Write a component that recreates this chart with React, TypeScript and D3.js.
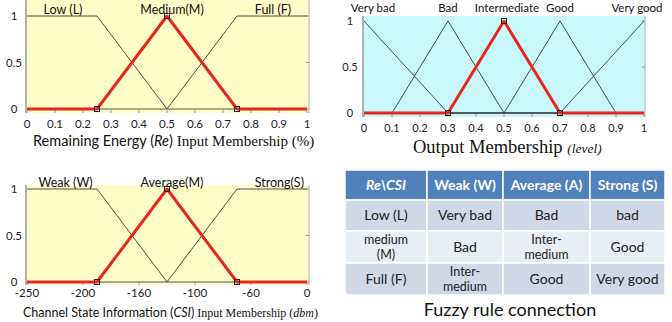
import React from 'react'
import * as d3 from 'd3'

// ---- data ----
const reTicks = [0, 0.1, 0.2, 0.3, 0.4, 0.5, 0.6, 0.7, 0.8, 0.9, 1]
const reNames = ['Low (L)', 'Medium(M)', 'Full (F)']
const reLow = [[0, 1], [0.25, 1], [0.5, 0], [1, 0]]
const reMedium = [[0, 0], [0.25, 0], [0.5, 1], [0.75, 0], [1, 0]]
const reFull = [[0, 0], [0.5, 0], [0.75, 1], [1, 1]]

const outTicks = [0, 0.1, 0.2, 0.3, 0.4, 0.5, 0.6, 0.7, 0.8, 0.9, 1]
const outNames = ['Very bad', 'Bad', 'Intermediate', 'Good', 'Very good']
const outVeryBad = [[0, 1], [0.3, 0], [1, 0]]
const outBad = [[0, 0], [0.1, 0], [0.3, 1], [0.5, 0], [1, 0]]
const outInter = [[0, 0], [0.3, 0], [0.5, 1], [0.7, 0], [1, 0]]
const outGood = [[0, 0], [0.5, 0], [0.7, 1], [0.9, 0], [1, 0]]
const outVeryGood = [[0, 0], [0.7, 0], [1, 1]]

const csiTicks = [-250, -200, -160, -100, -60, 0]
const csiNames = ['Weak (W)', 'Average(M)', 'Strong(S)']
const csiWeak = [[-250, 1], [-190, 1], [-130, 0], [0, 0]]
const csiAverage = [[-250, 0], [-190, 0], [-130, 1], [-70, 0], [0, 0]]
const csiStrong = [[-250, 0], [-130, 0], [-70, 1], [0, 1]]

const yTicks = [0, 0.5, 1]

const tableHeader = ['Re\\CSI', 'Weak (W)', 'Average (A)', 'Strong (S)']
const tableRows = [
  ['Low (L)', 'Very bad', 'Bad', 'bad'],
  ['medium\n(M)', 'Bad', 'Inter-\nmedium', 'Good'],
  ['Full (F)', 'Inter-\nmedium', 'Good', 'Very good'],
]

const SANS = 'Lato, Carlito, "Open Sans", sans-serif'
const SERIF = '"Liberation Serif", "DejaVu Serif", serif'
const RED = '#e8261c'

type Pt = number[]

function Membership(props: {
  x: d3.ScaleLinear<number, number>
  y: d3.ScaleLinear<number, number>
  bg: [number, number, number, number]
  fill: string
  sets: Pt[][]
  active: number
  names: string[]
  labelAt: number[]
  labelY: number
  labelSize: number
  ticks: number[]
  tickFmt: (d: number) => string
  tickY: number
  tickSize: number
  yLabelX: number
}) {
  const { x, y, bg, fill, sets, active, names, labelAt, labelY, ticks } = props
  const line = d3.line<Pt>().x(d => x(d[0])).y(d => y(d[1]))
  const [bx0, by0, bx1, by1] = bg
  const act = sets[active]
  return (
    <g>
      <rect x={bx0} y={by0} width={bx1 - bx0} height={by1 - by0} fill={fill} />
      <line x1={bx0} x2={bx0} y1={by0} y2={by1} stroke="#b0b0b0" strokeWidth={2} />
      <line x1={bx1} x2={bx1} y1={by0} y2={by1} stroke="#c8c8c8" strokeWidth={1.5} />
      {ticks.map((t, i) => (
        <g key={i}>
          <line x1={x(t)} x2={x(t)} y1={by1} y2={by1 - 3} stroke="#999" />
          <text x={x(t)} y={props.tickY} textAnchor="middle" fontFamily={SANS}
            fontSize={props.tickSize} fill="#222">{props.tickFmt(t)}</text>
        </g>
      ))}
      {yTicks.map((t, i) => (
        <g key={i}>
          <line x1={bx1} x2={bx1 - 3} y1={y(t)} y2={y(t)} stroke="#999" />
          <text x={props.yLabelX} y={y(t)} dy="0.35em" textAnchor="middle" fontFamily={SANS}
            fontSize={props.tickSize} fill="#222">{t}</text>
        </g>
      ))}
      {sets.map((s, i) => i === active ? null : (
        <path key={i} d={line(s) || ''} fill="none" stroke="#3a3a3a" strokeWidth={0.9} />
      ))}
      <path d={line(act) || ''} fill="none" stroke={RED} strokeWidth={3} strokeLinejoin="round" />
      {act.slice(1, -1).map((p, i) => (
        <rect key={i} x={x(p[0]) - 2.5} y={y(p[1]) - 2.5} width={5} height={5}
          fill="none" stroke="#222" strokeWidth={1} />
      ))}
      {names.map((n, i) => (
        <text key={i} x={labelAt[i]} y={labelY} textAnchor="middle" fontFamily={SANS}
          fontSize={props.labelSize} fill="#111">{n}</text>
      ))}
    </g>
  )
}

// centre of a set's top (plateau or peak), in data units
function topCentre(s: Pt[]) {
  const top = s.filter(p => p[1] === 1).map(p => p[0])
  return (d3.min(top)! + d3.max(top)!) / 2
}

export default function App() {
  const xRe = d3.scaleLinear().domain([0, 1]).range([27, 307])
  const yRe = d3.scaleLinear().domain([0, 1]).range([109, 16])

  const xOut = d3.scaleLinear().domain([0, 1]).range([364, 644])
  const yOut = d3.scaleLinear().domain([0, 1]).range([113, 21])

  // CSI axis: evenly spaced, non-uniform labels -> polylinear scale
  const xCsi = d3.scaleLinear().domain(csiTicks)
    .range(csiTicks.map((_, i) => 27 + (280 * i) / (csiTicks.length - 1)))
  const yCsi = d3.scaleLinear().domain([0, 1]).range([282, 189])

  const reSets = [reLow, reMedium, reFull]
  const outSets = [outVeryBad, outBad, outInter, outGood, outVeryGood]
  const csiSets = [csiWeak, csiAverage, csiStrong]

  const outLabelX = outSets.map(s => xOut(topCentre(s)))
  outLabelX[0] += 9
  outLabelX[outLabelX.length - 1] -= 7
  outLabelX[2] += 3

  const colEdges = [345, 427, 503, 590, 665]
  const rowEdges = [170, 200, 231, 263, 295]
  const rowFill = ['#d0d8e8', '#e9edf4', '#d0d8e8']

  return (
    <svg width={672} height={322} style={{ position: 'absolute', left: 0, top: 0, background: '#fff' }}>
      {/* Remaining energy */}
      <Membership x={xRe} y={yRe} bg={[26, 0, 309, 113]} fill="#fffdc8" sets={reSets} active={1}
        names={reNames} labelAt={reSets.map(s => xRe(topCentre(s)) + (s === reMedium ? 5 : 1))}
        labelY={14} labelSize={12.5}
        ticks={reTicks} tickFmt={d => String(d)} tickY={128} tickSize={11.5} yLabelX={14} />
      <text x={33} y={146} fill="#111">
        <tspan fontFamily={SANS} fontSize={14.5}>Remaining Energy (</tspan>
        <tspan fontFamily={SANS} fontSize={14.5} fontStyle="italic">Re</tspan>
        <tspan fontFamily={SANS} fontSize={14.5}>)</tspan>
        <tspan fontFamily={SERIF} fontSize={15}> Input Membership  (%)</tspan>
      </text>

      {/* Output */}
      <Membership x={xOut} y={yOut} bg={[363, 16, 645, 117]} fill="#c8f8fa" sets={outSets} active={2}
        names={outNames} labelAt={outLabelX} labelY={12} labelSize={11.5}
        ticks={outTicks} tickFmt={d => String(d)} tickY={132} tickSize={11} yLabelX={350} />
      <text x={413} y={153} fill="#111" fontFamily={SERIF}>
        <tspan fontSize={18.5}>Output Membership </tspan>
        <tspan fontSize={13.5} fontStyle="italic">(level)</tspan>
      </text>

      {/* CSI */}
      <Membership x={xCsi} y={yCsi} bg={[26, 185, 309, 285]} fill="#fffdc8" sets={csiSets} active={1}
        names={csiNames} labelAt={csiSets.map(s => xCsi(topCentre(s)) + 5)}
        labelY={187} labelSize={12.5}
        ticks={csiTicks} tickFmt={d => String(d)} tickY={297} tickSize={11.5} yLabelX={14} />
      <text x={23} y={317} fill="#111">
        <tspan fontFamily={SANS} fontSize={12.5}>Channel State Information (</tspan>
        <tspan fontFamily={SANS} fontSize={12.5} fontStyle="italic">CSI</tspan>
        <tspan fontFamily={SANS} fontSize={12.5}>)</tspan>
        <tspan fontFamily={SERIF} fontSize={12}> Input Membership (</tspan>
        <tspan fontFamily={SERIF} fontSize={12} fontStyle="italic">dbm</tspan>
        <tspan fontFamily={SERIF} fontSize={12}>)</tspan>
      </text>

      {/* Rule table */}
      <g fontFamily={SANS}>
        {tableHeader.map((h, c) => {
          const cx = (colEdges[c] + colEdges[c + 1]) / 2
          return (
            <g key={c}>
              <rect x={colEdges[c]} y={rowEdges[0]} width={colEdges[c + 1] - colEdges[c]}
                height={rowEdges[1] - rowEdges[0]} fill="#4f81bd" stroke="#fff" strokeWidth={1.5} />
              <text x={cx} y={(rowEdges[0] + rowEdges[1]) / 2} dy="0.35em" textAnchor="middle"
                fill="#fff" fontWeight="bold" fontSize={14} fontStyle={c === 0 ? 'italic' : 'normal'}>{h}</text>
            </g>
          )
        })}
        {tableRows.map((row, r) => row.map((cell, c) => {
          const cx = (colEdges[c] + colEdges[c + 1]) / 2
          const cy = (rowEdges[r + 1] + rowEdges[r + 2]) / 2
          const lines = cell.split('\n')
          const lh = 15.5
          return (
            <g key={r + '-' + c}>
              <rect x={colEdges[c]} y={rowEdges[r + 1]} width={colEdges[c + 1] - colEdges[c]}
                height={rowEdges[r + 2] - rowEdges[r + 1]} fill={rowFill[r]} stroke="#fff" strokeWidth={1.5} />
              {lines.map((l, k) => (
                <text key={k} x={cx} y={cy + (k - (lines.length - 1) / 2) * lh} dy="0.35em"
                  textAnchor="middle" fill="#222" fontSize={lines.length > 1 ? 12.5 : 14}>{l}</text>
              ))}
            </g>
          )
        }))}
        <text x={510} y={316} textAnchor="middle" fill="#111" fontSize={18}>Fuzzy rule connection</text>
      </g>
    </svg>
  )
}
